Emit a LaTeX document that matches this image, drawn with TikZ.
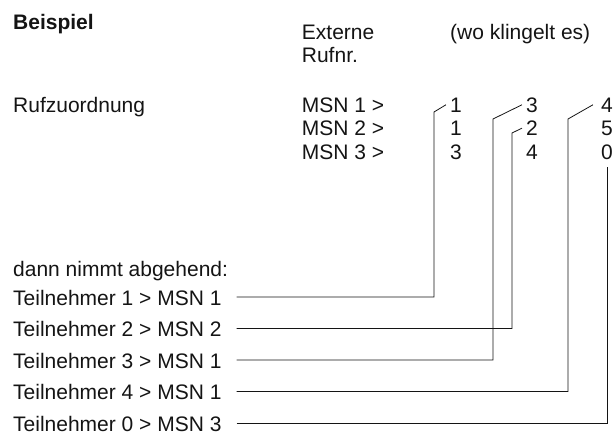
\documentclass[tikz,border=0pt]{standalone}
\usepackage{fontspec}
\setmainfont{Liberation Sans}
\usetikzlibrary{positioning}
\definecolor{inkgray}{RGB}{20,20,20}
\tikzset{
  txt/.style={anchor=base west,inner sep=0pt,text=inkgray,
    font=\fontsize{21pt}{23pt}\selectfont},
  digit/.style={anchor=base,inner sep=0pt,text=inkgray,
    font=\fontsize{21pt}{23pt}\selectfont},
  wire/.style={draw=inkgray,line width=0.8pt}
}

\begin{document}
\begin{tikzpicture}[x=1pt,y=-1pt]
  \useasboundingbox (0,0) rectangle (615,436);

  \node[txt,font=\fontsize{21pt}{23pt}\selectfont\bfseries] (title) at (13,30) {Beispiel};
  \node[txt] (ext) at (301.7,40) {Externe};
  \node[txt] (rufnr) at (301.7,63) {Rufnr.};
  \node[txt] (wo) at (450,40) {(wo klingelt es)};
  \node[txt] (zuord) at (13,112) {Rufzuordnung};

  \node[txt] (msn1) at (301.7,112) {MSN 1 >};
  \node[txt] (msn2) at (301.7,135.5) {MSN 2 >};
  \node[txt] (msn3) at (301.7,159) {MSN 3 >};

  \node[digit] (d11) at (456,112) {1};
  \node[digit] (d12) at (456,135.5) {1};
  \node[digit] (d13) at (456,159) {3};
  \node[digit] (d21) at (532,112) {3};
  \node[digit] (d22) at (532,135.5) {2};
  \node[digit] (d23) at (532,159) {4};
  \node[digit] (d31) at (607,112) {4};
  \node[digit] (d32) at (607,135.5) {5};
  \node[digit] (d33) at (607,159) {0};

  \node[txt] (dann) at (13,276) {dann nimmt abgehend:};
  \node[txt] (tn1) at (13,305) {Teilnehmer 1 > MSN 1};
  \node[txt] (tn2) at (13,336.5) {Teilnehmer 2 > MSN 2};
  \node[txt] (tn3) at (13,368) {Teilnehmer 3 > MSN 1};
  \node[txt] (tn4) at (13,399.5) {Teilnehmer 4 > MSN 1};
  \node[txt] (tn0) at (13,431) {Teilnehmer 0 > MSN 3};

  \coordinate (k11) at (434,112);
  \coordinate (k21) at (493,119);
  \coordinate (k22) at (512,133);
  \coordinate (k31) at (568,119);

  \draw[wire] ([xshift=15pt,yshift=8pt]tn1.base east) -| (k11) -- ([xshift=-4pt]d11.west);
  \draw[wire] ([xshift=15pt,yshift=8pt]tn2.base east) -| (k22) -- ([xshift=-4pt]d22.west);
  \draw[wire] ([xshift=15pt,yshift=8pt]tn3.base east) -| (k21) -- ([xshift=-4pt]d21.west);
  \draw[wire] ([xshift=15pt,yshift=8pt]tn4.base east) -| (k31) -- ([xshift=-8pt]d31.west);
  \draw[wire] ([xshift=15pt,yshift=8pt]tn0.base east) -| ([yshift=-8pt]d33.south);
\end{tikzpicture}
\end{document}
